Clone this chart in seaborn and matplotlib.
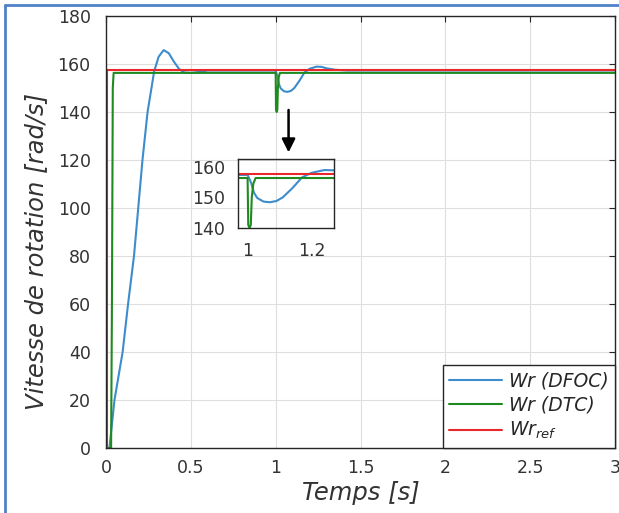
import numpy as np
import pandas as pd
import matplotlib
matplotlib.use("Agg")
import matplotlib.pyplot as plt
from matplotlib.lines import Line2D
import seaborn as sns

# Rotor speed responses: DFOC, DTC and the speed reference
t_dfoc = [0.0, 0.02, 0.05, 0.098, 0.13, 0.165, 0.19, 0.215, 0.245, 0.284, 0.31,
          0.34, 0.37, 0.40, 0.43, 0.46, 0.50, 0.55, 0.60, 1.00, 1.01, 1.02, 1.03,
          1.05, 1.07, 1.09, 1.11, 1.14, 1.17, 1.20, 1.24, 1.27, 1.30, 1.35, 1.42,
          3.0]
w_dfoc = [0.0, 0.0, 20, 40, 60, 80, 100, 120, 140, 157, 163,
          165.8, 164.5, 161, 158, 156.5, 156.3, 156.7, 157.3, 157.3, 155, 151.5, 149.8,
          148.6, 148.4, 148.8, 150, 153, 156.5, 158, 158.9, 158.8, 158.2, 157.6, 157.3,
          157.3]

t_dtc = [0.0, 0.03, 0.035, 0.04, 0.045, 1.0, 1.002, 1.006, 1.010, 1.013, 1.018,
         1.025, 3.0]
w_dtc = [0.0, 0.0, 60, 150, 156.3, 156.3, 141, 140, 141, 150, 154.5,
         156.3, 156.3]

t_ref = [0.0, 0.005, 0.005, 3.0]
w_ref = [0.0, 0.0, 157.6, 157.6]

labels = ["Wr (DFOC)", "Wr (DTC)", r"$Wr_{ref}$"]
colors = ["#3d8dcc", "#1f8a1f", "#e8282a"]

x_ticks = [0, 0.5, 1, 1.5, 2, 2.5, 3]
x_tick_labels = ["0", "0.5", "1", "1.5", "2", "2.5", "3"]
y_ticks = list(range(0, 181, 20))

df = pd.concat([
    pd.DataFrame({"t": t_dfoc, "w": w_dfoc, "s": labels[0]}),
    pd.DataFrame({"t": t_dtc, "w": w_dtc, "s": labels[1]}),
    pd.DataFrame({"t": t_ref, "w": w_ref, "s": labels[2]}),
], ignore_index=True)

sns.set_style("whitegrid")
plt.rcParams["font.family"] = ["DejaVu Sans"]
plt.rcParams["mathtext.fontset"] = "dejavusans"

text_col = "#333333"
fig = plt.figure(figsize=(6.19, 5.13), dpi=100)
ax = fig.add_axes([106 / 619, 1 - 448 / 513, (615 - 106) / 619, (448 - 16) / 513])

palette = dict(zip(labels, colors))


def draw(a, lw):
    sns.lineplot(data=df, x="t", y="w", hue="s", palette=palette, ax=a,
                 estimator=None, sort=False, linewidth=lw, legend=False)


draw(ax, 1.5)
ax.set_xlim(0, 3)
ax.set_ylim(0, 180)
ax.set_xticks(x_ticks)
ax.set_xticklabels(x_tick_labels)
ax.set_yticks(y_ticks)
ax.tick_params(direction="in", top=True, right=True, length=4, width=0.8,
               color="#262626", labelcolor=text_col, labelsize=12.5)
ax.tick_params(axis="y", pad=11)
ax.tick_params(axis="x", pad=8)
ax.grid(True, color="#dedede", linewidth=0.8)
for sp in ax.spines.values():
    sp.set_color("#262626")
    sp.set_linewidth(1.0)
ax.set_xlabel("Temps [s]", fontsize=17.5, style="italic", color=text_col, labelpad=3)
ax.set_ylabel("Vitesse de rotation [rad/s]", fontsize=17.5, style="italic",
              color=text_col)
ax.yaxis.set_label_coords(-58 / 509, 0.455)

handles = [Line2D([0], [0], color=c, lw=1.5) for c in colors]
leg = ax.legend(handles, labels, loc="lower right", borderaxespad=0,
                frameon=True, fancybox=False, framealpha=1, edgecolor="#262626",
                prop={"style": "italic", "size": 13.5}, handlelength=2.8,
                handletextpad=0.37, labelspacing=0.28, borderpad=0.35)
leg.get_frame().set_linewidth(1.0)
for txt in leg.get_texts():
    txt.set_color("#262626")

# Arrow pointing at the zoomed window
ax.annotate("", xy=(1.076, 122), xytext=(1.076, 142),
            arrowprops=dict(arrowstyle="-|>", color="black", lw=1.8,
                            mutation_scale=20))

# Zoom on the load disturbance at t = 1 s
ins = fig.add_axes([238 / 619, 1 - 228 / 513, 96 / 619, 69 / 513])
ins.set_facecolor("none")
draw(ins, 1.5)
ins.set_xlim(0.97, 1.27)
ins.set_ylim(140, 162.5)
ins.set_xticks([1, 1.2])
ins.set_xticklabels(["1", "1.2"])
ins.set_yticks([140, 150, 160])
ins.grid(False)
ins.set_xlabel("")
ins.set_ylabel("")
ins.tick_params(direction="in", length=3, labelsize=12.5, color="#262626",
                labelcolor=text_col)
ins.tick_params(axis="y", pad=9)
ins.tick_params(axis="x", pad=10)
for sp in ins.spines.values():
    sp.set_color("#262626")
    sp.set_linewidth(1.0)

# Frame lines along the top and left edge
fig.add_artist(Line2D([5 / 619, 5 / 619], [0, 1 - 5 / 513], color="#4f81c7", lw=2,
                      transform=fig.transFigure))
fig.add_artist(Line2D([5 / 619, 1], [1 - 5 / 513, 1 - 5 / 513], color="#4f81c7", lw=2,
                      transform=fig.transFigure))

fig.savefig("out.png", dpi=100)
